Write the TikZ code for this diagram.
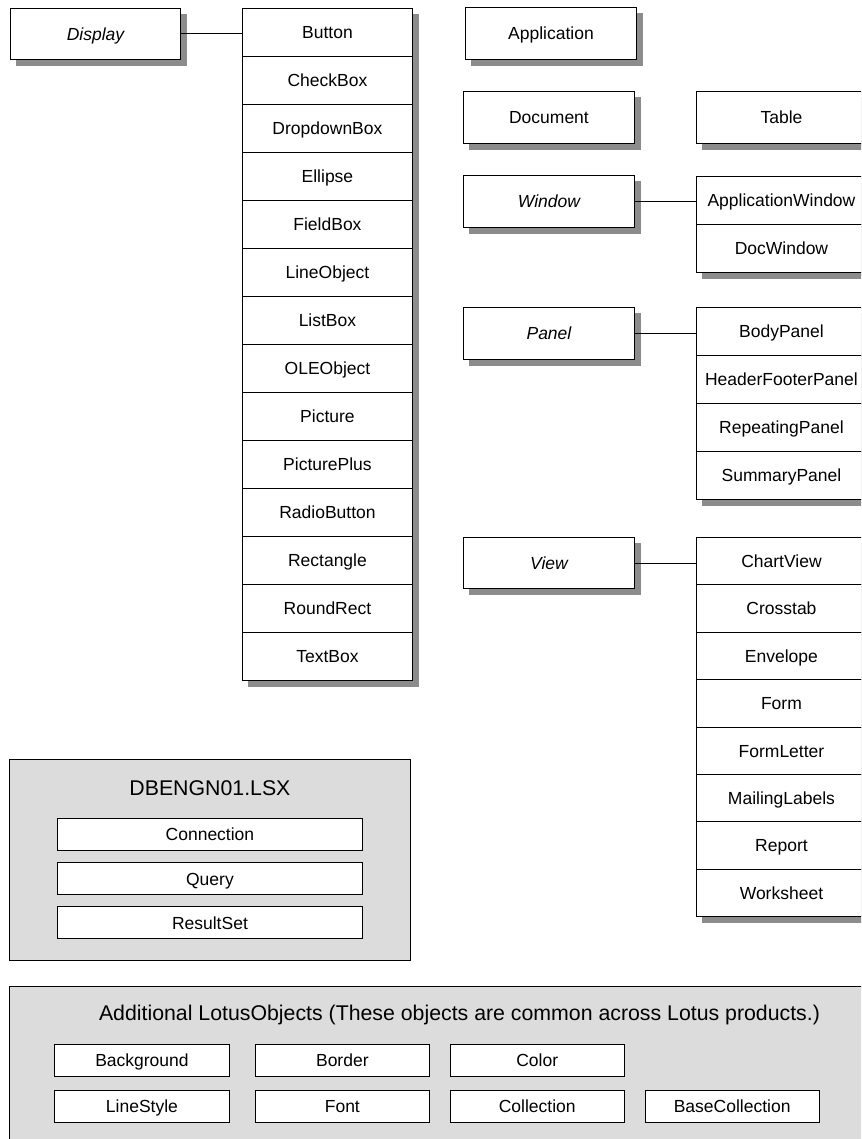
\documentclass[tikz,border=0pt]{standalone}
\usepackage{fontspec}
\setmainfont{Liberation Sans}
\usepackage{tikz}
\usetikzlibrary{calc, positioning, backgrounds}

\definecolor{shadowgray}{RGB}{140,140,140}
\definecolor{panelgray}{RGB}{220,220,220}

\tikzset{
  classbox/.style={draw, fill=white, line width=0.9pt, inner sep=0pt,
    minimum width=171pt, minimum height=52pt, text height=12.5pt, text depth=0pt,
    font=\fontsize{17.5}{20}\selectfont},
  abstractbox/.style={classbox, font=\fontsize{17.5}{20}\selectfont\itshape},
  memberbox/.style={classbox, minimum width=170pt, minimum height=48pt},
  libbox/.style={draw, fill=panelgray, line width=0.9pt, inner sep=0pt},
  libtitle/.style={font=\fontsize{21.3}{24}\selectfont, inner sep=0pt},
  libitem/.style={draw, fill=white, line width=0.9pt, inner sep=0pt,
    minimum width=174pt, minimum height=32pt, text height=12.5pt, text depth=0pt,
    font=\fontsize{17.5}{20}\selectfont},
  link/.style={line width=0.9pt}
}

\begin{document}
\begin{tikzpicture}[x=1pt, y=-1pt]

    % =================================================================
    % 1. KHUNG ẢNH
    % =================================================================
    \useasboundingbox (0,0) rectangle (861,1139);
    \clip (0,0) rectangle (861,1139);

    % =================================================================
    % 2. LỚP DISPLAY VÀ CỘT CON
    % =================================================================
    \node[abstractbox, anchor=north west, minimum width=170pt, minimum height=51pt] (disp) at (10,8) {Display};
    \foreach \t [count=\i] in {Button, CheckBox, DropdownBox, Ellipse, FieldBox,
        LineObject, ListBox, OLEObject, Picture, PicturePlus, RadioButton,
        Rectangle, RoundRect, TextBox}
      \node[memberbox, anchor=north west] (btn\i) at (242, {8+(\i-1)*48}) {\t};
    \draw[link] (disp.east) -- (disp.east -| btn1.west);

    % =================================================================
    % 3. CÁC LỚP ĐƠN
    % =================================================================
    \node[classbox, anchor=north west] (app) at (465,7) {Application};
    \node[classbox, anchor=north west] (doc) at (463,91) {Document};
    \node[classbox, anchor=north west, minimum width=170pt] (tbl) at (696,91) {Table};

    % =================================================================
    % 4. WINDOW, PANEL, VIEW
    % =================================================================
    \node[abstractbox, anchor=north west] (win) at (463,175) {Window};
    \foreach \t [count=\i] in {ApplicationWindow, DocWindow}
      \node[memberbox, anchor=north west] (win\i) at (696, {176+(\i-1)*48}) {\t};
    \draw[link] (win.east) -- (win.east -| win1.west);

    \node[abstractbox, anchor=north west] (pnl) at (463,307) {Panel};
    \foreach \t [count=\i] in {BodyPanel, HeaderFooterPanel, RepeatingPanel, SummaryPanel}
      \node[memberbox, anchor=north west] (pnl\i) at (696, {307+(\i-1)*48}) {\t};
    \draw[link] (pnl.east) -- (pnl.east -| pnl1.west);

    \node[abstractbox, anchor=north west, minimum height=51pt] (view) at (463,537) {View};
    \foreach \t [count=\i] in {ChartView, Crosstab, Envelope, Form, FormLetter,
        MailingLabels, Report, Worksheet}
      \node[memberbox, anchor=north west, minimum height=47.4pt] (view\i) at (696, {537+(\i-1)*47.4}) {\t};
    \draw[link] (view.east) -- (view.east -| view1.west);

    % =================================================================
    % 5. BÓNG ĐỔ
    % =================================================================
    \begin{scope}[on background layer]
      \clip (0,0) rectangle (861,1139);
      \foreach \a/\b in {disp/disp, btn1/btn14, app/app, doc/doc, tbl/tbl,
          win/win, win1/win2, pnl/pnl, pnl1/pnl4, view/view, view1/view8}
        \fill[shadowgray] ($(\a.north west)+(6,6)$) rectangle ($(\b.south east)+(6,6)$);
    \end{scope}

    % =================================================================
    % 6. THƯ VIỆN DBENGN01.LSX
    % =================================================================
    \node[libbox, anchor=north west, minimum width=401pt, minimum height=201pt] (dbeng) at (9,759) {};
    \node[libtitle] (dbtitle) at ($(dbeng.north)+(0,29)$) {DBENGN01.LSX};
    \node[libitem, anchor=north, minimum width=305pt] (conn) at ($(dbeng.north)+(0,59)$) {Connection};
    \node[libitem, minimum width=305pt, below=11.5pt of conn] (query) {Query};
    \node[libitem, minimum width=305pt, below=11pt of query] (rset) {ResultSet};

    % =================================================================
    % 7. CÁC LOTUSOBJECTS BỔ SUNG
    % =================================================================
    \node[libbox, anchor=north west, minimum width=870pt, minimum height=170pt] (lotus) at (9,986) {};
    \node[libtitle] (lotustitle) at (459.5,1015) {Additional LotusObjects (These objects are common across Lotus products.)};
    \node[libitem, anchor=north west, minimum width=175pt] (bkg) at (54,1044) {Background};
    \node[libitem, right=25pt of bkg] (border) {Border};
    \node[libitem, right=20pt of border] (color) {Color};
    \node[libitem, minimum width=175pt, below=13pt of bkg] (lstyle) {LineStyle};
    \node[libitem, right=25pt of lstyle] (font) {Font};
    \node[libitem, right=20pt of font] (coll) {Collection};
    \node[libitem, right=20pt of coll] (bcoll) {BaseCollection};

\end{tikzpicture}
\end{document}
